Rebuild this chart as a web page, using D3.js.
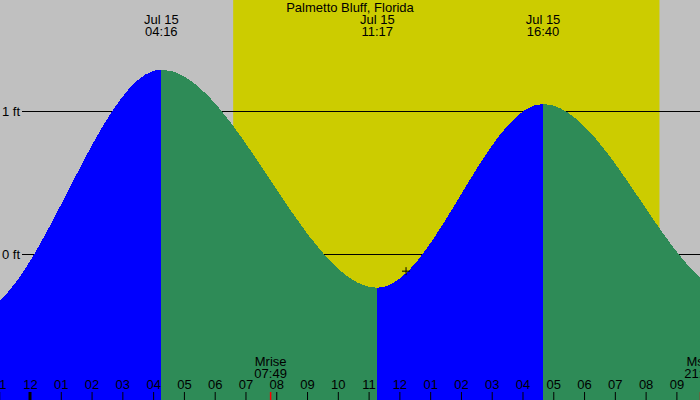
<!DOCTYPE html>
<html>
<head>
<meta charset="utf-8">
<script src="https://cdn.jsdelivr.net/npm/d3@7"></script>
<style>
  html, body { margin: 0; padding: 0; background: #c0c0c0; }
  svg { display: block; font-family: "Liberation Sans", Arial, Helvetica, sans-serif; font-size: 13px; }
</style>
</head>
<body>
<svg id="chart" width="700" height="400"></svg>
<script>
// ---------- data ----------
const title = "Palmetto Bluff, Florida";
const viewRange = ["2024-07-14 23:01:30", "2024-07-15 21:46:00"];
const hourTickRange = ["2024-07-14 23:00:00", "2024-07-15 22:00:00"];
const extremeTimes = ["2024-07-14 22:12:00", "2024-07-15 04:16:00", "2024-07-15 11:17:00", "2024-07-15 16:40:00", "2024-07-15 23:00:00"];
const extremeHeights = [-0.41, 1.29, -0.236, 1.049, -0.30];
const extremeDateLabels = ["Jul 14", "Jul 15", "Jul 15", "Jul 15", "Jul 15"];
const sunTimes = ["2024-07-15 06:36:00", "2024-07-15 20:27:00"];
const moonLabels = ["Mrise", "Mset"];
const moonTimes = ["2024-07-15 07:49:00", "2024-07-15 21:47:00"];
const levelTicks = [0, 1];
const levelTickLabels = ["0 ft", "1 ft"];
const midnightTimes = ["2024-07-15 00:00:00"];
const nowTime = "2024-07-15 12:13:00";
const nowHeight = -0.12;

// ---------- setup ----------
const W = 700, H = 400;
const FS = 13;
const FONT = "Liberation Sans, Arial, sans-serif";
const parse = d3.timeParse("%Y-%m-%d %H:%M:%S");
const fmtHM = d3.timeFormat("%H:%M");
const svg = d3.select("#chart");

const x = d3.scaleTime().domain(viewRange.map(parse)).range([0, W]);
const y = d3.scaleLinear().domain([0, 1]).range([254, 111]);

// custom curve: horizontal tangents at each extreme (tide-like half waves)
function TideCurve(context) { this._context = context; }
TideCurve.prototype = {
  areaStart() { this._line = 0; },
  areaEnd() { this._line = NaN; },
  lineStart() { this._point = 0; },
  lineEnd() {
    if (this._line || (this._line !== 0 && this._point === 1)) this._context.closePath();
    this._line = 1 - this._line;
  },
  point(px, py) {
    px = +px; py = +py;
    if (this._point === 0) {
      this._point = 1;
      this._line ? this._context.lineTo(px, py) : this._context.moveTo(px, py);
    } else {
      const dx = (px - this._x0) / 3;
      this._context.bezierCurveTo(this._x0 + dx, this._y0, px - dx, py, px, py);
    }
    this._x0 = px; this._y0 = py;
  }
};
const curveTide = ctx => new TideCurve(ctx);

// ---------- background ----------
svg.append("rect").attr("x", 0).attr("y", 0).attr("width", W).attr("height", H).attr("fill", "#c0c0c0");
const sun = sunTimes.map(parse);
svg.append("rect")
  .attr("x", x(sun[0])).attr("y", 0)
  .attr("width", x(sun[1]) - x(sun[0])).attr("height", H)
  .attr("fill", "#cccc00");

// ---------- level lines (under the tide) ----------
const yAxis = d3.axisLeft(y)
  .tickValues(levelTicks)
  .tickSize(W - 22)
  .tickPadding(2)
  .tickFormat((d, i) => levelTickLabels[i]);
const gy = svg.append("g").attr("transform", `translate(${W},0)`).call(yAxis);
gy.select(".domain").remove();
gy.selectAll("line").attr("stroke", "#000");
gy.selectAll("text").attr("font-size", FS).attr("font-family", FONT).attr("fill", "#000");

// ---------- tide fill ----------
const pts = extremeTimes.map((t, i) => ({ t: parse(t), h: extremeHeights[i] }));
const area = d3.area()
  .x(d => x(d.t))
  .y0(H)
  .y1(d => y(d.h))
  .curve(curveTide);
const segs = d3.pairs(pts);
svg.append("g").selectAll("path")
  .data(segs)
  .join("path")
  .attr("d", d => area(d))
  .attr("fill", d => d[1].h > d[0].h ? "#0000ff" : "#2e8b57")
  .attr("shape-rendering", "crispEdges");

// ---------- hour axis ----------
const hr = hourTickRange.map(parse);
const xAxis = d3.axisTop(x)
  .tickValues(d3.timeHour.range(hr[0], hr[1]))
  .tickSize(8)
  .tickSizeOuter(0)
  .tickFormat(d3.timeFormat("%I"));
const gx = svg.append("g").attr("transform", `translate(0,${H})`).call(xAxis);
gx.select(".domain").remove();
gx.selectAll("line").attr("stroke", "#000");
gx.selectAll("text").attr("font-size", FS).attr("font-family", FONT).attr("fill", "#000");

// midnight marker
svg.append("g").selectAll("line")
  .data(midnightTimes.map(parse))
  .join("line")
  .attr("x1", d => x(d)).attr("x2", d => x(d))
  .attr("y1", H - 8).attr("y2", H)
  .attr("stroke", "#000").attr("stroke-width", 3);

// ---------- moon events ----------
const moon = moonTimes.map((t, i) => ({ t: parse(t), label: moonLabels[i] }));
const gm = svg.append("g");
gm.selectAll("line")
  .data(moon)
  .join("line")
  .attr("x1", d => x(d.t)).attr("x2", d => x(d.t))
  .attr("y1", H - 8).attr("y2", H)
  .attr("stroke", "#ff0000").attr("stroke-width", 1.5);
gm.selectAll("text.ml")
  .data(moon)
  .join("text")
  .attr("class", "ml")
  .attr("x", d => x(d.t)).attr("y", 366)
  .attr("text-anchor", "middle")
  .text(d => d.label);
gm.selectAll("text.mt")
  .data(moon)
  .join("text")
  .attr("class", "mt")
  .attr("x", d => x(d.t)).attr("y", 378)
  .attr("text-anchor", "middle")
  .text(d => fmtHM(d.t));

// ---------- current time marker ----------
const nx = x(parse(nowTime)), ny = y(nowHeight);
svg.append("line").attr("x1", nx - 4).attr("x2", nx + 4).attr("y1", ny).attr("y2", ny).attr("stroke", "#000");
svg.append("line").attr("x1", nx).attr("x2", nx).attr("y1", ny - 4).attr("y2", ny + 4).attr("stroke", "#000");

// ---------- top labels ----------
svg.append("text").attr("x", W / 2).attr("y", 12).attr("text-anchor", "middle").text(title);
const dom = x.domain();
const visible = pts.map((d, i) => ({ ...d, date: extremeDateLabels[i] }))
  .filter(d => d.t >= dom[0] && d.t <= dom[1]);
const gt = svg.append("g");
gt.selectAll("text.d")
  .data(visible)
  .join("text")
  .attr("class", "d")
  .attr("x", d => x(d.t)).attr("y", 24)
  .attr("text-anchor", "middle")
  .text(d => d.date);
gt.selectAll("text.t")
  .data(visible)
  .join("text")
  .attr("class", "t")
  .attr("x", d => x(d.t)).attr("y", 36)
  .attr("text-anchor", "middle")
  .text(d => fmtHM(d.t));
</script>
</body>
</html>
